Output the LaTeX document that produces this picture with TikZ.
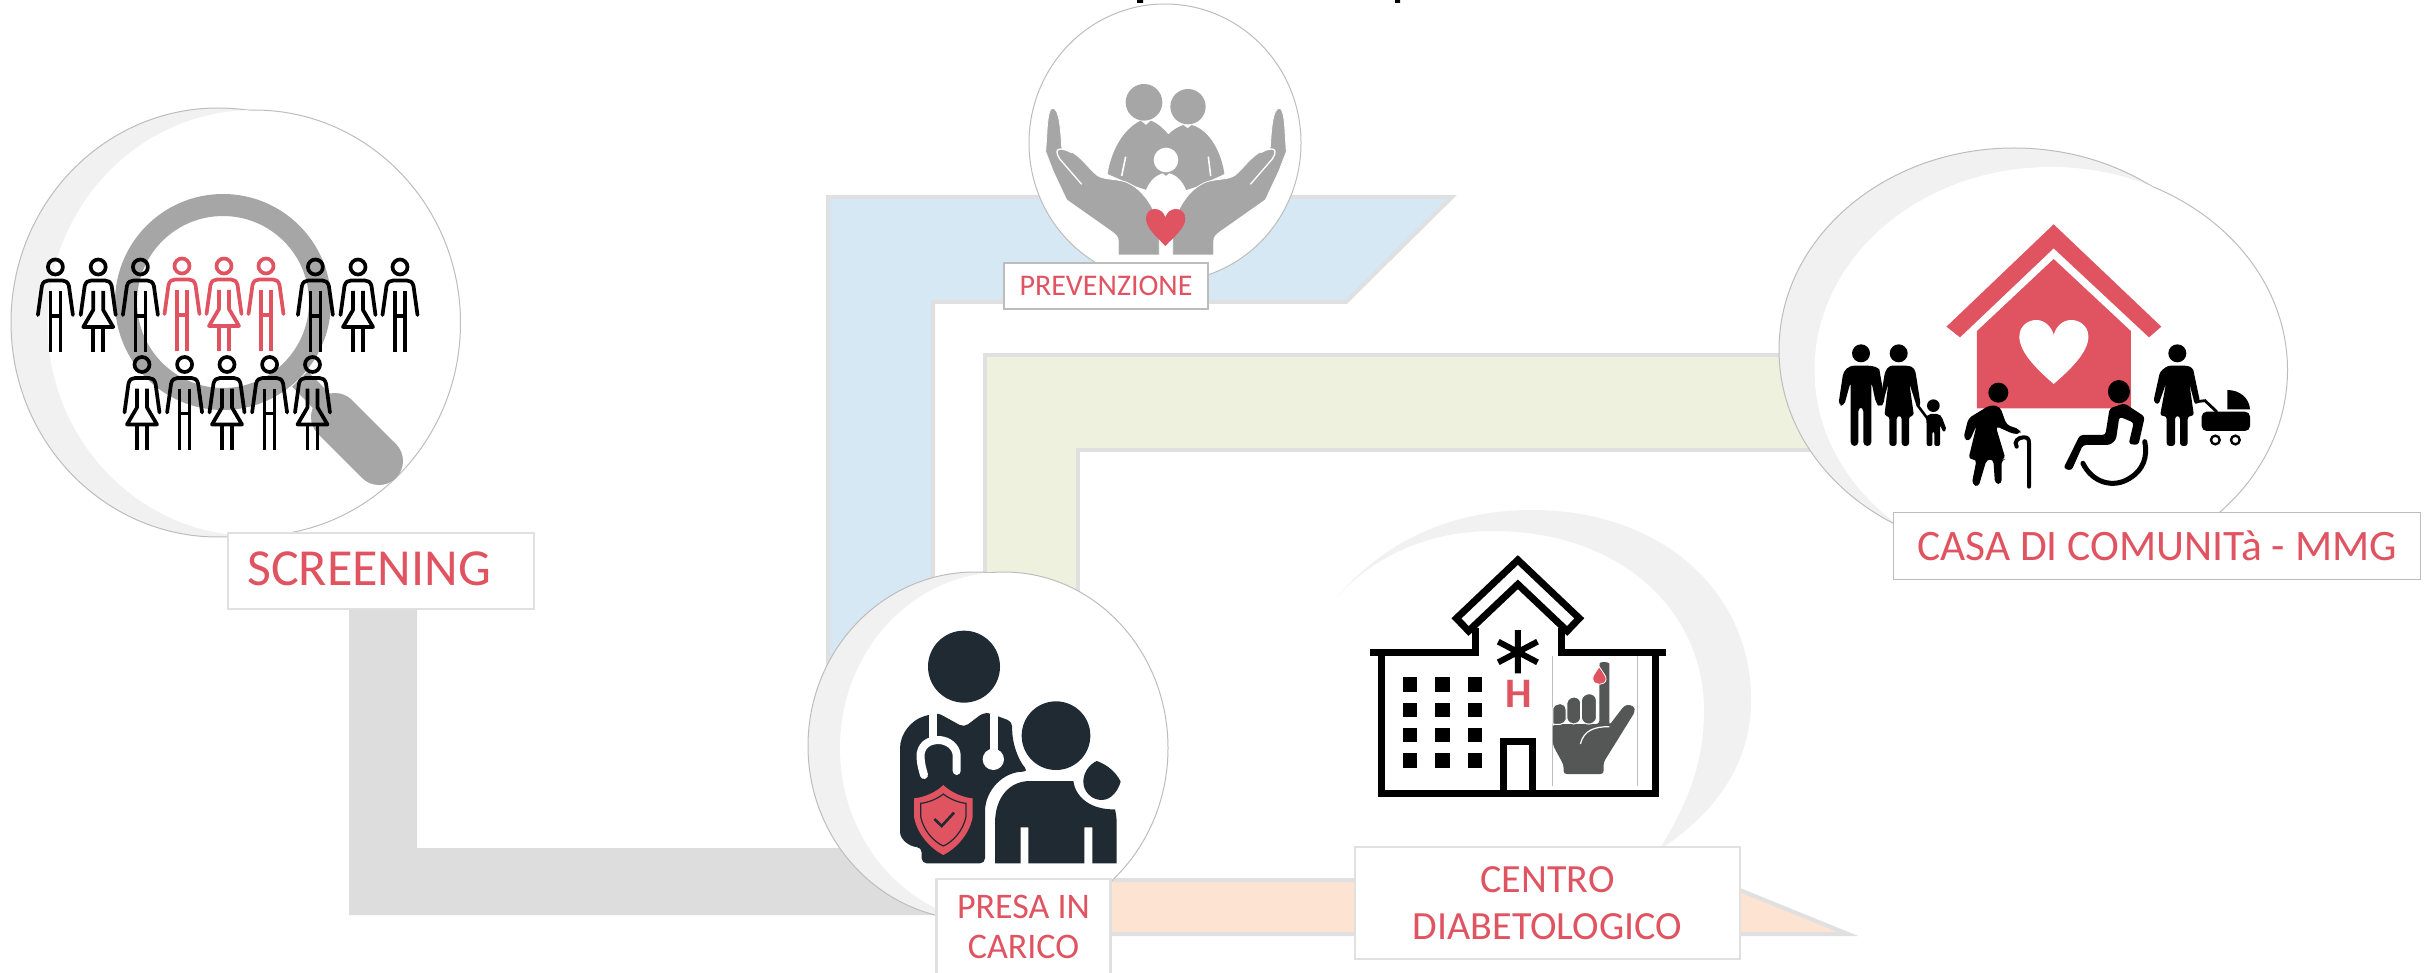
\documentclass[tikz,border=0pt]{standalone}
\usepackage{fontspec}
\setmainfont{Carlito}
\definecolor{redc}{HTML}{E05361}
\definecolor{crescent}{HTML}{F1F1F1}
\definecolor{edgec}{HTML}{BDBDBD}
\definecolor{bandedge}{HTML}{E0E0E0}
\definecolor{bandgray}{HTML}{DDDDDD}
\definecolor{bandblue}{HTML}{D6E8F3}
\definecolor{bandgreen}{HTML}{EEF1DE}
\definecolor{bandorange}{HTML}{FCE3D2}
\definecolor{lensgray}{HTML}{A6A6A6}
\definecolor{navy}{HTML}{1F2A33}
\definecolor{handgray}{HTML}{555757}
\tikzset{
  labelbox/.style={draw=bandedge,line width=2.5pt,fill=white,inner sep=0pt,align=center,text=redc},
  labelboxdark/.style={labelbox,draw=edgec,line width=1.5pt},
  labeltext/.style={inner sep=0pt,text=redc,align=center},
  band/.style={draw=bandedge,line width=4pt,line join=miter},
  personline/.style={line width=3.7pt,line cap=butt,line join=round},
}
% man and woman pictogram: x, y of head centre, colour
\newcommand{\manicon}[3]{\begin{scope}[shift={(#1,#2)},personline,draw=#3]
  \draw (0,0) circle (7.5);
  \draw[line cap=round] (-17.5,48) -- (-13.5,19) .. controls (-12.5,15) and (-10,13.5) .. (-7,13.5) -- (7,13.5) .. controls (10,13.5) and (12.5,15) .. (13.5,19) -- (17.5,48);
  \draw (-5,24) -- (-5,85) (5,24) -- (5,85) (-5,49) -- (5,49);
\end{scope}}
\newcommand{\womanicon}[3]{\begin{scope}[shift={(#1,#2)},personline,draw=#3]
  \draw (0,0) circle (7.5);
  \draw[line cap=round] (-17.5,48) -- (-13.5,19) .. controls (-12.5,15) and (-10,13.5) .. (-7,13.5) -- (7,13.5) .. controls (10,13.5) and (12.5,15) .. (13.5,19) -- (17.5,48);
  \draw (-5,24) -- (-5,43) -- (-15,60) -- (15,60) -- (5,43) -- (5,24);
  \draw (-5,60) -- (-5,85) (5,60) -- (5,85);
\end{scope}}
% bubble: crescent ellipse (outlined), then inner white ellipse outlined only outside the crescent
\newcommand{\bubble}[8]{%
  \fill[crescent] (#1,#2) circle [x radius=#3,y radius=#4];
  \draw[edgec,line width=1pt] (#1,#2) circle [x radius=#3,y radius=#4];
  \fill[white] (#5,#6) circle [x radius=#7,y radius=#8];
  \begin{scope}[even odd rule]
    \clip (0,0) rectangle (2425,973) (#1,#2) circle [x radius=#3,y radius=#4];
    \draw[edgec,line width=1pt] (#5,#6) circle [x radius=#7,y radius=#8];
  \end{scope}}
\begin{document}
\begin{tikzpicture}[x=1pt,y=-1pt]
\useasboundingbox (0,0) rectangle (2425,973);
\fill[white] (0,0) rectangle (2425,973);
% cut-off marks at the top edge
\fill[black] (1137,0) rectangle (1143,3) (1395,0) rectangle (1400,3);
% bands
\draw[band,fill=bandblue] (828,197) -- (1452,197) -- (1346,302) -- (933,302) -- (933,720) -- (828,720) -- cycle;
\draw[band,fill=bandgreen] (985,355) -- (1850,355) -- (1850,450) -- (1078,450) -- (1078,680) -- (985,680) -- cycle;
\fill[bandgray] (349,600) -- (417,600) -- (417,848) -- (980,848) -- (980,915) -- (349,915) -- cycle;
\draw[band,fill=bandorange] (1080,880) -- (1715,880) -- (1848,934) -- (1080,934) -- cycle;
% ---------- screening
\bubble{218}{322.5}{207}{214.5}{254}{323}{206.5}{213}
\draw[lensgray,line width=22pt] (223,302) circle (97);
\draw[lensgray,line width=48pt,line cap=round] (335,417) -- (379,461);
\draw[lensgray,line width=22pt] (300,379) -- (340,420);
\foreach \px/\kind in {55.4/man,98.2/woman,140.4/man,315.4/man,358/woman,400/man}{
  \csname\kind icon\endcsname{\px}{267}{black}}
\manicon{182}{266}{redc}
\womanicon{224}{266}{redc}
\manicon{266}{266}{redc}
\foreach \px/\kind in {142/woman,184.6/man,227/woman,269.6/man,312.5/woman}{
  \csname\kind icon\endcsname{\px}{364.5}{black}}
\node[labelbox,minimum width=306pt,minimum height=76pt] (screeningbox) at (381,571) {};
\node[labeltext,anchor=west,font=\fontsize{52}{60}\selectfont] (screening) at (247,569) {SCREENING};
% ---------- prevenzione
\fill[white] (1165,143) circle [x radius=136,y radius=139];
\draw[edgec,line width=1pt] (1165,143) circle [x radius=136,y radius=139];
\begin{scope}[shift={(1040,100)},x=.33333pt,y=-.33333pt]
  \fill[lensgray] (312,7) circle (55) (444,20) circle (53);
  \fill[lensgray] (302,62) -- (318,75) -- (332,62) .. controls (355,70) and (372,88) .. (385,103) .. controls (398,90) and (415,80) .. (430,75) -- (443,85) -- (455,75) .. controls (510,90) and (545,160) .. (553,222) -- (470,260) -- (378,290) -- (290,260) -- (203,222) .. controls (212,160) and (245,90) .. (302,62) -- cycle;
  \draw[white,line width=1.6pt] (257,170) -- (245,228) (505,170) -- (512,228);
  \fill[white] (378,180) circle (37);
  \fill[white] (318,270) .. controls (330,240) and (350,225) .. (368,220) -- (378,228) -- (388,220) .. controls (410,225) and (428,245) .. (438,270) -- (420,330) -- (340,330) -- cycle;
  \def\handpath{(38,25) .. controls (25,25) and (22,70) .. (20,110) -- (17,155) -- (40,215) -- (80,300) -- (215,395) .. controls (228,405) and (235,410) .. (235,425) -- (235,465) -- (358,465) -- (358,390) .. controls (350,330) and (310,265) .. (255,245) .. controls (220,235) and (190,240) .. (170,225) .. controls (140,200) and (110,150) .. (68,147) -- (65,140) .. controls (62,90) and (58,25) .. (38,25) -- cycle}
  \def\handline{(125,253) -- (60,178) .. controls (45,155) and (50,147) .. (62,147) .. controls (75,148) and (85,152) .. (95,158)}
  \fill[lensgray,draw=white,line width=.8pt] \handpath;
  \draw[white,line width=1.3pt] \handline;
  \begin{scope}[shift={(756,0)},xscale=-1]
    \fill[lensgray,draw=white,line width=.8pt] \handpath;
    \draw[white,line width=1.3pt] \handline;
  \end{scope}
  \fill[redc] (376,438) .. controls (350,410) and (318,385) .. (318,355) .. controls (318,335) and (332,327) .. (345,327) .. controls (360,327) and (372,338) .. (376,352) .. controls (380,338) and (392,327) .. (407,327) .. controls (420,327) and (436,335) .. (436,355) .. controls (436,385) and (402,410) .. (376,438) -- cycle;
\end{scope}
\node[labelboxdark,minimum width=204pt,minimum height=46pt,font=\fontsize{30}{36}\selectfont] (prevenzione) at (1106,286) {PREVENZIONE};
% ---------- casa di comunita
\bubble{2014}{350}{235}{202}{2051}{370}{236.5}{203}
\begin{scope}[shift={(1760,140)},x=.42373pt,y=-.33333pt]
  \fill[redc] (693,253) -- (947,560) -- (918,592) -- (693,325) -- (472,592) -- (440,560) -- cycle;
  \fill[redc] (693,357) -- (875,573) -- (875,805) -- (512,805) -- (512,573) -- cycle;
  \fill[white] (693,732) .. controls (660,695) and (612,640) .. (612,590) .. controls (612,555) and (635,540) .. (652,540) .. controls (672,540) and (688,560) .. (693,585) .. controls (698,560) and (714,540) .. (734,540) .. controls (752,540) and (775,555) .. (775,590) .. controls (775,640) and (726,695) .. (693,732) -- cycle;
\end{scope}
\begin{scope}[shift={(1830,330)},x=.33333pt,y=-.33333pt]
  \fill[black] (93,70) circle (27) (206,70) circle (27) (310,227) circle (19);
  \fill[black,rounded corners=4pt] (60,107) -- (125,107) .. controls (140,112) and (148,118) .. (150,130) -- (165,215) -- (150,232) -- (138,220) -- (124,155) -- (124,348) -- (100,348) -- (100,232) -- (85,232) -- (85,348) -- (62,348) -- (62,155) -- (42,228) -- (25,225) -- (40,125) -- cycle;
  \fill[black,rounded corners=3pt] (178,107) -- (235,107) .. controls (250,112) and (255,120) .. (258,135) -- (272,225) -- (262,235) -- (238,160) -- (252,258) -- (237,258) -- (237,348) -- (215,348) -- (215,258) -- (200,258) -- (200,348) -- (178,348) -- (178,258) -- (163,258) -- (175,160) -- (155,232) -- (150,215) -- (165,125) -- cycle;
  \draw[black,line width=2.6pt] (262,225) -- (292,265);
  \fill[black,rounded corners=2pt] (296,252) -- (327,252) -- (335,260) -- (350,300) -- (340,307) -- (330,285) -- (330,348) -- (313,348) -- (313,305) -- (307,305) -- (307,348) -- (290,348) -- (290,285) -- (288,262) -- cycle;
  \fill[black] (505,188) circle (30);
  \fill[black,rounded corners=4pt] (480,225) -- (415,265) -- (400,325) -- (418,335) -- (440,285) -- (415,388) -- (440,388) -- (425,462) -- (445,472) -- (470,388) -- (490,388) -- (495,462) -- (515,462) -- (515,388) -- (527,388) -- (497,288) -- (550,312) -- (572,312) -- (570,298) -- (530,285) -- (510,230) -- cycle;
  \draw[black,line width=4pt,line cap=round] (560,350) .. controls (550,335) and (565,322) .. (580,322) .. controls (592,322) and (597,325) .. (597,340) -- (597,470);
\end{scope}
\begin{scope}[shift={(1760,140)},x=.42373pt,y=-.33333pt]
  \fill[black] (847,755) circle [x radius=26,y radius=35];
  \fill[black,rounded corners=3pt] (825,805) -- (860,790) -- (908,830) -- (893,915) -- (870,912) -- (882,848) -- (848,830) -- (840,900) -- (825,915) -- (762,915) -- (735,992) -- (716,985) -- (755,885) -- (815,885) -- cycle;
  \draw[black,line width=5pt,line cap=round] (762,970) .. controls (785,1030) and (835,1045) .. (872,1015) .. controls (905,990) and (915,950) .. (908,905);
\end{scope}
\begin{scope}[shift={(2100,330)},x=.33333pt,y=-.33333pt]
  \fill[black] (232,70) circle (27);
  \fill[black,rounded corners=3pt] (203,107) -- (262,107) .. controls (275,112) and (280,120) .. (282,130) -- (300,215) -- (285,225) -- (268,160) -- (282,258) -- (263,258) -- (263,348) -- (240,348) -- (240,258) -- (225,258) -- (225,348) -- (200,348) -- (200,258) -- (180,258) -- (198,160) -- (175,225) -- (160,215) -- (180,125) -- cycle;
  \draw[black,line width=2.8pt,line cap=round] (290,215) -- (315,212) -- (350,245);
  \fill[black] (382,180) .. controls (420,180) and (448,205) .. (450,238) -- (382,238) -- cycle;
  \fill[black,rounded corners=5pt] (305,245) -- (450,245) -- (450,303) -- (305,303) -- cycle;
  \draw[black,line width=2.4pt] (346,330) circle (13) (406,330) circle (13);
\end{scope}
\node[labelboxdark,minimum width=527pt,minimum height=67pt,font=\fontsize{43.5}{50}\selectfont] (casa) at (2157,546) {CASA DI COMUNITà - MMG};
% ---------- centro diabetologico
\fill[crescent] (1337,597) .. controls (1390,535) and (1460,510) .. (1532,510) .. controls (1660,510) and (1751,590) .. (1751,700) .. controls (1751,760) and (1720,810) .. (1659,850) .. controls (1690,800) and (1704,760) .. (1704,710) .. controls (1704,610) and (1620,531) .. (1493,531) .. controls (1430,531) and (1375,555) .. (1337,597) -- cycle;
\begin{scope}[shift={(1300,500)},x=.35714pt,y=-.33333pt]
  \draw[black,line width=7pt,line join=miter] (227,456) -- (227,879) -- (994,879) -- (994,456);
  \draw[black,line width=7pt] (197,456) -- (490,456) -- (490,385) (732,385) -- (732,456) -- (1025,456);
  \draw[black,line width=7pt,line join=miter,fill=white] (610,180) -- (782,355) -- (748,393) -- (610,253) -- (472,393) -- (438,355) -- cycle;
  \foreach \wx in {287,378,469}{\foreach \wy in {532,608,684,760}{
    \fill[black] (\wx,\wy) rectangle ++(41,43);}}
  \draw[black,line width=7pt,line join=miter] (570,879) -- (570,725) -- (650,725) -- (650,879);
  \draw[black,line width=6pt] (610,390) -- (610,520) (555,425) -- (665,487) (665,425) -- (555,487);
  \node[labeltext,font=\fontsize{42}{42}\bfseries\selectfont] (hletter) at (613,581) {H};
  \fill[white] (707,468) rectangle (945,858);
  \draw[edgec,line width=.7pt] (707,468) -- (707,858) (945,468) -- (945,858);
  \fill[handgray,rounded corners=3pt] (738,822) -- (850,822) -- (850,787) -- (938,635) .. controls (935,615) and (915,612) .. (902,625) -- (866,676) -- (866,500) .. controls (866,485) and (840,485) .. (838,498) -- (838,672) -- (708,672) -- (708,735) -- (738,795) -- cycle;
  \begin{scope}[draw=white,line width=1pt,fill=handgray]
    \filldraw (708,672) -- (708,625) .. controls (715,605) and (745,605) .. (745,630) -- (745,660) .. controls (740,675) and (720,675) .. (708,672) -- cycle;
    \filldraw (747,655) -- (747,610) .. controls (750,585) and (785,585) .. (786,610) -- (786,655) .. controls (780,678) and (752,678) .. (747,655) -- cycle;
    \filldraw (788,655) -- (788,600) .. controls (792,575) and (828,575) .. (830,600) -- (830,655) .. controls (825,678) and (792,678) .. (788,655) -- cycle;
  \end{scope}
  \draw[white,line width=1.2pt] (785,732) .. controls (795,690) and (825,680) .. (866,680);
  \fill[redc,draw=white,line width=.8pt] (838,500) .. controls (825,520) and (818,530) .. (820,538) .. controls (822,558) and (855,558) .. (857,538) .. controls (858,530) and (850,520) .. (838,500) -- cycle;
\end{scope}
\node[labelbox,minimum width=385pt,minimum height=112pt,font=\fontsize{40}{47}\selectfont] (centro) at (1547.5,903) {CENTRO\\DIABETOLOGICO};
% ---------- presa in carico
\bubble{975}{746}{167}{174}{1004}{748}{164}{176}
\begin{scope}[shift={(780,590)},x=.33333pt,y=-.33333pt]
  \fill[navy] (552,230) circle (108);
  \fill[navy,rounded corners=5pt] (445,375) .. controls (395,390) and (360,430) .. (360,490) -- (360,710) .. controls (360,750) and (390,770) .. (425,772) -- (425,820) -- (615,820) -- (615,680) .. controls (615,600) and (670,545) .. (745,545) .. controls (715,510) and (695,460) .. (697,395) -- (630,370) -- (610,368) -- (552,412) -- (472,368) -- cycle;
  \draw[white,line width=8pt,line cap=round] (458,372) -- (458,445);
  \draw[white,line width=8pt,line cap=round] (432,555) .. controls (425,530) and (420,510) .. (422,490) .. controls (428,455) and (460,450) .. (478,450) .. controls (505,452) and (528,470) .. (530,495) -- (530,543);
  \draw[white,line width=8pt] (643,372) -- (643,500);
  \fill[white] (640,508) circle (32);
  \fill[navy] (828,437) circle (103);
  \fill[navy] (645,820) -- (645,700) .. controls (645,620) and (690,573) .. (750,573) -- (880,573) .. controls (885,615) and (925,660) .. (1005,658) .. controls (1010,680) and (1010,690) .. (1010,710) -- (1010,820) -- (937,820) -- (937,712) -- (913,712) -- (913,820) -- (745,820) -- (745,712) -- (722,712) -- (722,820) -- cycle;
  \fill[navy] (950,513) .. controls (985,525) and (1010,550) .. (1022,575) .. controls (1015,600) and (995,630) .. (965,630) .. controls (935,630) and (910,605) .. (910,575) .. controls (910,550) and (925,525) .. (950,513) -- cycle;
  \fill[redc] (490,585) .. controls (470,605) and (435,622) .. (402,625) -- (402,680) .. controls (410,730) and (450,775) .. (490,795) .. controls (530,775) and (570,730) .. (578,680) -- (578,625) .. controls (545,622) and (510,605) .. (490,585) -- cycle;
  \draw[navy,line width=1.2pt] (490,612) .. controls (475,625) and (445,638) .. (422,640) -- (422,680) .. controls (430,720) and (460,755) .. (490,768) .. controls (520,755) and (550,720) .. (558,680) -- (558,640) .. controls (535,638) and (505,625) .. (490,612) -- cycle;
  \draw[navy,line width=2.6pt] (463,687) -- (485,708) -- (522,668);
\end{scope}
\node[labelbox,draw=bandedge,minimum width=174pt,minimum height=96pt,font=\fontsize{36}{40}\selectfont] (presa) at (1023.5,927) {PRESA IN\\CARICO};
\end{tikzpicture}
\end{document}
